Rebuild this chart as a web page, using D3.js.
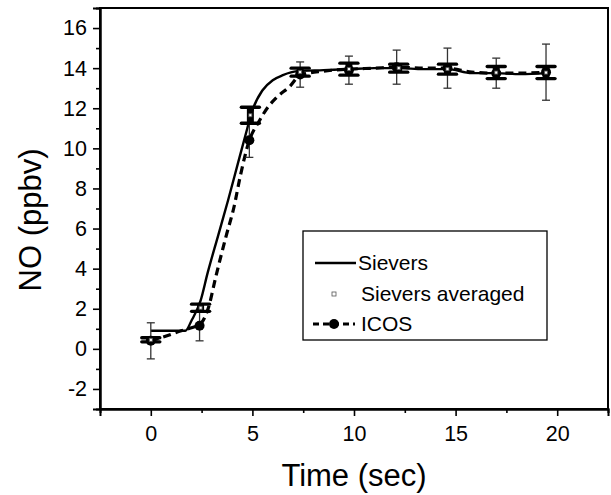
<!DOCTYPE html>
<html>
<head>
<meta charset="utf-8">
<script src="https://cdn.jsdelivr.net/npm/d3@7/dist/d3.min.js"></script>
<style>
  body { margin: 0; background: #fff; }
  svg { display: block; font-family: "Liberation Sans", Arial, sans-serif; }
</style>
</head>
<body>
<svg id="chart" width="611" height="495"></svg>
<script>
// ICOS markers + error bars
const icosTime = [0, 2.4, 4.85, 7.35, 9.75, 12.1, 14.6, 17.0, 19.45];
const icosNO = [0.4, 1.15, 10.4, 13.68, 13.9, 14.05, 14.0, 13.75, 13.8];
const icosErr = [0.9, 0.75, 0.85, 0.63, 0.7, 0.85, 1.0, 0.75, 1.4];

// ICOS dashed curve
const icosCurveT = [0, 0.65, 1.5, 2.0, 2.45, 2.85, 3.2, 3.7, 4.1, 4.4, 4.85, 5.3, 5.8, 6.2, 6.85, 7.35, 8.5, 9.75, 11.0, 12.1, 13.4, 14.6, 15.8, 17.0, 18.2, 19.45];
const icosCurveNO = [0.4, 0.6, 0.9, 1.05, 1.25, 2.1, 3.6, 5.6, 7.1, 8.6, 10.4, 11.3, 12.1, 12.55, 13.1, 13.65, 13.85, 13.95, 14.0, 14.05, 14.0, 14.0, 13.8, 13.75, 13.75, 13.8];

// Sievers solid line
const sieversT = [0, 1.7, 2.0, 2.45, 2.8, 3.3, 3.8, 4.3, 4.75, 5.0, 5.5, 6.0, 6.5, 7.2, 8.5, 9.75, 11.0, 12.2, 13.4, 14.6, 15.8, 17.0, 18.2, 19.45];
const sieversNO = [0.9, 0.9, 1.4, 2.4, 3.8, 5.6, 7.4, 9.3, 11.0, 11.9, 12.9, 13.4, 13.65, 13.85, 13.9, 13.95, 14.0, 14.0, 13.95, 13.95, 13.75, 13.75, 13.7, 13.75];

// Sievers averaged + thick error bars
const avgTime = [0, 2.45, 4.9, 7.35, 9.75, 12.2, 14.6, 17.0, 19.45];
const avgNO = [0.45, 2.05, 11.65, 13.8, 13.95, 14.0, 13.95, 13.78, 13.78];
const avgErr = [0.1, 0.18, 0.4, 0.2, 0.3, 0.2, 0.25, 0.3, 0.3];

const xMajor = [0, 5, 10, 15, 20];
const xMinor = [2.5, 7.5, 12.5, 17.5];
const yMajor = [-2, 0, 2, 4, 6, 8, 10, 12, 14, 16];
const yMinor = [-1, 1, 3, 5, 7, 9, 11, 13, 15];

const svg = d3.select('#chart');
const margin = { top: 8, right: 3, bottom: 86, left: 100 };
const width = 611, height = 495;
const innerWidth = width - margin.left - margin.right;
const innerHeight = height - margin.top - margin.bottom;

const xScale = d3.scaleLinear().domain([-2.5, 22.5]).range([0, innerWidth]);
const yScale = d3.scaleLinear().domain([-3, 17]).range([innerHeight, 0]);

const g = svg.append('g').attr('transform', `translate(${margin.left},${margin.top})`);

// frame
g.append('rect')
    .attr('width', innerWidth).attr('height', innerHeight)
    .attr('fill', 'none').attr('stroke', '#000').attr('stroke-width', 2);

// axes
g.append('g').attr('transform', `translate(0,${innerHeight})`)
    .call(d3.axisBottom(xScale).tickValues(xMajor).tickSize(7).tickPadding(10).tickFormat(d => d));
g.append('g').attr('class', 'minor').attr('transform', `translate(0,${innerHeight})`)
    .call(d3.axisBottom(xScale).tickValues(xMinor).tickSize(4));
g.append('g')
    .call(d3.axisLeft(yScale).tickValues(yMajor).tickSize(7).tickPadding(6).tickFormat(d => d));
g.append('g').attr('class', 'minor')
    .call(d3.axisLeft(yScale).tickValues(yMinor).tickSize(4));
g.selectAll('.minor text').remove();

g.selectAll('.domain').attr('stroke', '#000').attr('stroke-width', 2);
g.selectAll('.tick line').attr('stroke', '#000').attr('stroke-width', 1.6);
g.selectAll('.tick text').attr('font-size', 21.5).attr('font-family', '"Liberation Sans", Arial, sans-serif').attr('fill', '#000');

// axis titles
svg.append('text')
    .attr('x', margin.left + xScale(10))
    .attr('y', 486)
    .attr('text-anchor', 'middle')
    .attr('font-size', 31)
    .text('Time (sec)');
svg.append('text')
    .attr('transform', `translate(41,220) rotate(-90)`)
    .attr('text-anchor', 'middle')
    .attr('font-size', 31)
    .text('NO (ppbv)');

const plot = g.append('g');

// ICOS dashed curve
const icosCurve = icosCurveT.map((t, i) => [t, icosCurveNO[i]]);
plot.append('path')
    .datum(icosCurve)
    .attr('fill', 'none')
    .attr('stroke', '#000')
    .attr('stroke-width', 3.2)
    .attr('stroke-dasharray', '8,5')
    .attr('d', d3.line().x(d => xScale(d[0])).y(d => yScale(d[1])).curve(d3.curveMonotoneX));

// Sievers solid line
const sievers = sieversT.map((t, i) => [t, sieversNO[i]]);
plot.append('path')
    .datum(sievers)
    .attr('fill', 'none')
    .attr('stroke', '#000')
    .attr('stroke-width', 2.4)
    .attr('d', d3.line().x(d => xScale(d[0])).y(d => yScale(d[1])).curve(d3.curveMonotoneX));

// ICOS error bars (thin)
icosTime.forEach((t, i) => {
    const x = xScale(t);
    const y1 = yScale(icosNO[i] + icosErr[i]);
    const y2 = yScale(icosNO[i] - icosErr[i]);
    const eb = plot.append('g').attr('stroke', '#333').attr('stroke-width', 1.3);
    eb.append('line').attr('x1', x).attr('x2', x).attr('y1', y1).attr('y2', y2);
    eb.append('line').attr('x1', x - 4).attr('x2', x + 4).attr('y1', y1).attr('y2', y1);
    eb.append('line').attr('x1', x - 4).attr('x2', x + 4).attr('y1', y2).attr('y2', y2);
});

// ICOS markers
plot.selectAll('.icos')
    .data(icosTime)
    .join('circle')
    .attr('class', 'icos')
    .attr('cx', d => xScale(d))
    .attr('cy', (d, i) => yScale(icosNO[i]))
    .attr('r', 5)
    .attr('fill', '#000');

// Sievers averaged thick error bars
avgTime.forEach((t, i) => {
    const x = xScale(t);
    const y1 = yScale(avgNO[i] + avgErr[i]);
    const y2 = yScale(avgNO[i] - avgErr[i]);
    const eb = plot.append('g').attr('stroke', '#000').attr('stroke-width', 3.4);
    eb.append('line').attr('x1', x).attr('x2', x).attr('y1', y1).attr('y2', y2).attr('stroke-width', 7);
    eb.append('line').attr('x1', x - 9).attr('x2', x + 9).attr('y1', y1).attr('y2', y1).attr('stroke-linecap', 'round');
    eb.append('line').attr('x1', x - 9).attr('x2', x + 9).attr('y1', y2).attr('y2', y2).attr('stroke-linecap', 'round');
});

// Sievers averaged markers (tiny open squares)
plot.selectAll('.avg')
    .data(avgTime)
    .join('rect')
    .attr('class', 'avg')
    .attr('x', d => xScale(d) - 1.5)
    .attr('y', (d, i) => yScale(avgNO[i]) - 1.5)
    .attr('width', 3).attr('height', 3)
    .attr('fill', '#fff').attr('stroke', '#555').attr('stroke-width', 0.8);

// legend
const legend = svg.append('g').attr('transform', 'translate(303,231)');
legend.append('rect')
    .attr('width', 244).attr('height', 109)
    .attr('fill', '#fff').attr('stroke', '#000').attr('stroke-width', 1.3);
const rowY = [32, 63, 93];
legend.append('line').attr('x1', 12).attr('x2', 53).attr('y1', rowY[0]).attr('y2', rowY[0])
    .attr('stroke', '#000').attr('stroke-width', 2.4);
legend.append('rect').attr('x', 29).attr('y', rowY[1] - 2).attr('width', 4).attr('height', 4)
    .attr('fill', '#fff').attr('stroke', '#555').attr('stroke-width', 0.8);
legend.append('line').attr('x1', 10).attr('x2', 52).attr('y1', rowY[2]).attr('y2', rowY[2])
    .attr('stroke', '#000').attr('stroke-width', 3.2).attr('stroke-dasharray', '6,4');
legend.append('circle').attr('cx', 31).attr('cy', rowY[2]).attr('r', 5).attr('fill', '#000');
const labels = ['Sievers', 'Sievers averaged', 'ICOS'];
legend.selectAll('.lbl')
    .data(labels)
    .join('text')
    .attr('class', 'lbl')
    .attr('x', (d, i) => i === 0 ? 55 : 58)
    .attr('y', (d, i) => rowY[i] + 7)
    .attr('font-size', 21)
    .text(d => d);
</script>
</body>
</html>
